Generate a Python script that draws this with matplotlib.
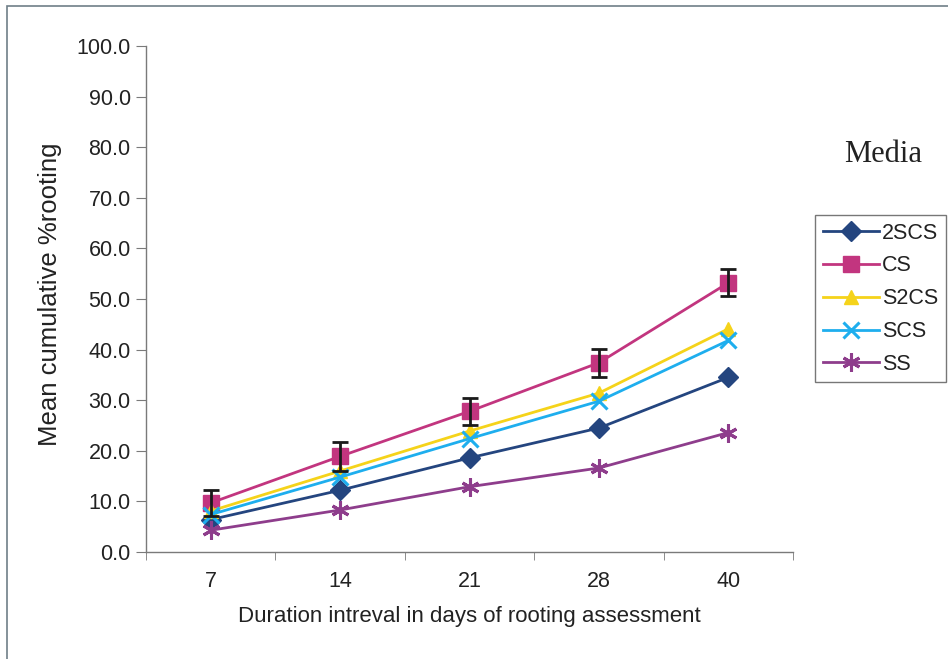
import matplotlib
matplotlib.use('Agg')

import matplotlib.pyplot as plt
from matplotlib.patches import Rectangle

# rooting assessment days
days = ["7", "14", "21", "28", "40"]

# mean cumulative % rooting per medium
s2cs_2 = [6.4, 12.2, 18.6, 24.5, 34.5]   # 2SCS
cs = [9.7, 18.9, 27.8, 37.4, 53.2]
s2cs = [8.1, 16.0, 23.9, 31.4, 44.1]
scs = [7.4, 14.8, 22.4, 29.8, 41.8]
ss = [4.3, 8.3, 12.9, 16.6, 23.6]
cs_err = [2.6, 2.8, 2.7, 2.8, 2.7]

yticks = [0, 10, 20, 30, 40, 50, 60, 70, 80, 90, 100]

plt.rcParams['font.family'] = ['Liberation Sans', 'DejaVu Sans']
txt = '#222222'
spine = '#7a7a7a'

fig = plt.figure(figsize=(9.48, 6.59), dpi=100)
ax = fig.add_axes([146/948, 1-552/659, (793-146)/948, (552-46)/659])

x = list(range(len(days)))
series = [
    ("2SCS", s2cs_2, '#24457f', 'D', 10),
    ("CS", cs, '#c2357f', 's', 11),
    ("S2CS", s2cs, '#f5d31a', '^', 10),
    ("SCS", scs, '#1eaeee', 'x', 11),
    ("SS", ss, '#8e3d8c', (6, 2, 0), 13),
]
handles = []
for name, vals, col, mk, ms in series:
    mew = 2.2 if name in ("SCS", "SS") else 1
    h, = ax.plot(x, vals, color=col, lw=2, marker=mk, markersize=ms,
                 markerfacecolor=col, markeredgecolor=col, markeredgewidth=mew,
                 label=name, zorder=3)
    handles.append(h)

ax.errorbar(x, cs, yerr=cs_err, fmt='none', ecolor='#1a1a1a', elinewidth=2,
            capsize=6, capthick=2, zorder=4)

ax.set_xlim(-0.5, len(days) - 0.5)
ax.set_ylim(0, 100)
ax.set_yticks(yticks)
ax.set_yticklabels(["%.1f" % v for v in yticks])
ax.set_xticks(x)
ax.set_xticklabels(days)
ax.set_xticks([i - 0.5 for i in range(len(days) + 1)], minor=True)
ax.tick_params(axis='x', which='major', length=0, pad=14, labelsize=15.5, colors=txt)
ax.tick_params(axis='x', which='minor', length=6, direction='out', color=spine)
ax.tick_params(axis='y', length=7, direction='out', color=spine, labelsize=15.5,
               labelcolor=txt, pad=4)

for s in ['top', 'right']:
    ax.spines[s].set_visible(False)
for s in ['left', 'bottom']:
    ax.spines[s].set_color(spine)
    ax.spines[s].set_linewidth(1)

ax.set_xlabel("Duration intreval in days of rooting assessment", fontsize=16,
              color=txt, labelpad=10)
ax.set_ylabel("Mean cumulative %rooting", fontsize=18.5, color=txt)
ax.yaxis.set_label_coords(-0.13, 0.51)

fig.text(883/948, 1-155/659, "Media", family='Liberation Serif', fontsize=22,
         color=txt, ha='center', va='center')

leg = fig.legend(handles=handles, loc='upper left',
                 bbox_to_anchor=(815/948, 1-215/659), fontsize=15.5,
                 frameon=True, fancybox=False, handlelength=2.6,
                 handletextpad=0.15, labelspacing=0.55, borderpad=0.35,
                 borderaxespad=0)
leg.get_frame().set_edgecolor('#555555')
leg.get_frame().set_linewidth(1)
for t in leg.get_texts():
    t.set_color(txt)

fig.patches.append(Rectangle((7/948, -0.05), 1.1, 1.05 - 6/659,
                             transform=fig.transFigure, fill=False,
                             edgecolor='#6f7f88', lw=1.2))

fig.savefig("out.png", dpi=100)
